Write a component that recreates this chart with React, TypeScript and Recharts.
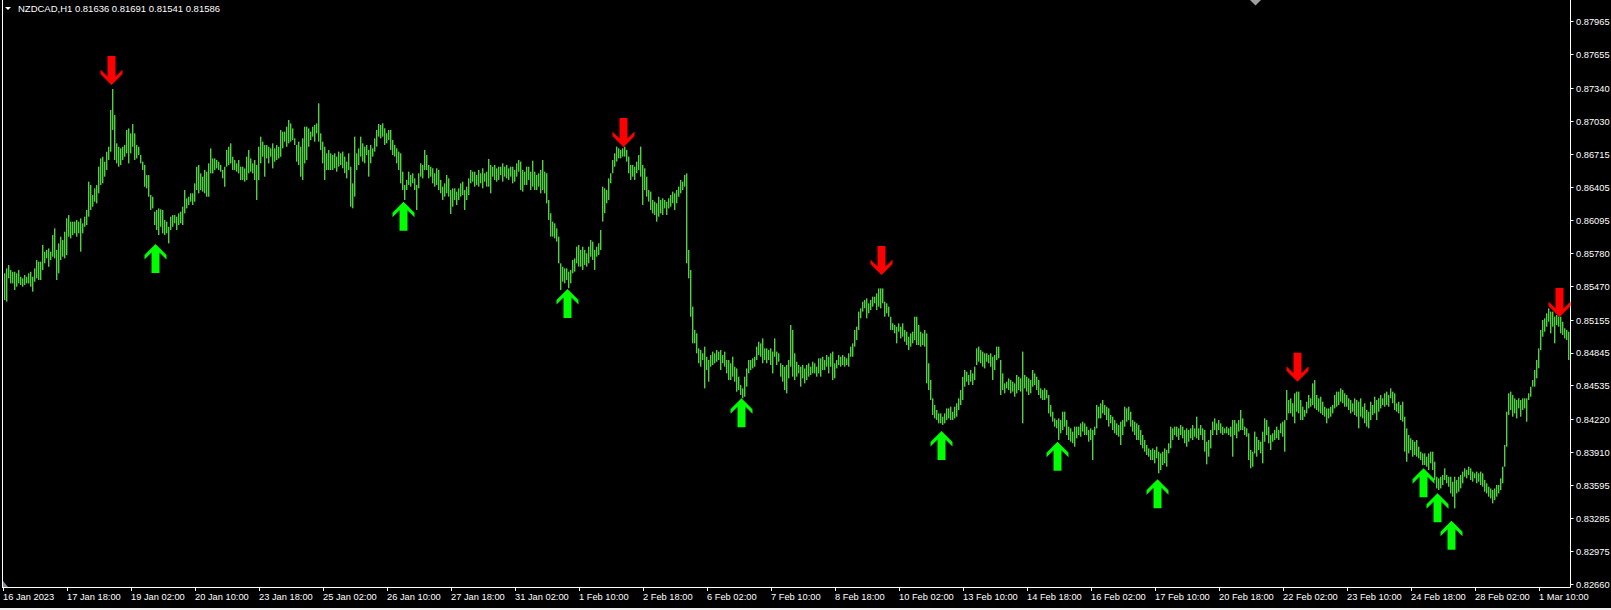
import React from 'react';
import { ComposedChart, Bar, Scatter, XAxis, YAxis } from 'recharts';

// Hourly bars, prices in points (1 point = 0.00001)
const highs: number[] = [
  85596, 85643, 85674, 85627, 85611, 85611, 85596, 85627, 85564, 85549,
  85580, 85564, 85596, 85611, 85564, 85643, 85721, 85706, 85706, 85863,
  85800, 85816, 85831, 85800, 85957, 86020, 85816, 85878, 85941, 85910,
  85988, 86114, 86145, 86083, 86083, 86083, 86098, 86083, 86114, 86067,
  86130, 86193, 86460, 86428, 86334, 86397, 86428, 86601, 86679, 86695,
  86648, 86742, 86789, 87135, 87333, 87088, 86821, 86789, 86774, 86789,
  86805, 86947, 86962, 86915, 87003, 86915, 86805, 86789, 86711, 86648,
  86617, 86522, 86522, 86334, 86318, 86177, 86193, 86208, 86199, 86193,
  86098, 86083, 86035, 86130, 86145, 86145, 86130, 86161, 86177, 86224,
  86381, 86302, 86318, 86350, 86350, 86444, 86601, 86617, 86538, 86507,
  86570, 86554, 86632, 86774, 86679, 86679, 86664, 86648, 86617, 86570,
  86601, 86758, 86789, 86821, 86695, 86664, 86632, 86664, 86601, 86601,
  86585, 86695, 86758, 86679, 86632, 86664, 86617, 86789, 86884, 86837,
  86805, 86805, 86789, 86774, 86821, 86774, 86805, 86789, 86947, 86931,
  86931, 86978, 87041, 87009, 86962, 86868, 86805, 86837, 86789, 86868,
  86978, 86978, 86962, 86931, 86978, 86994, 87009, 87198, 86915, 86837,
  86789, 86727, 86758, 86727, 86711, 86727, 86696, 86743, 86727, 86743,
  86696, 86649, 86727, 86601, 86444, 86884, 86727, 86774, 86884, 86821,
  86790, 86806, 86759, 86806, 86774, 86868, 86947, 87004, 86994, 87010,
  86963, 86916, 86947, 86947, 86853, 86806, 86774, 86743, 86727, 86554,
  86429, 86476, 86554, 86523, 86539, 86491, 86429, 86539, 86633, 86617,
  86759, 86711, 86617, 86601, 86586, 86539, 86586, 86570, 86476, 86413,
  86444, 86523, 86491, 86381, 86397, 86397, 86366, 86397, 86444, 86460,
  86381, 86413, 86491, 86570, 86554, 86554, 86523, 86570, 86539, 86586,
  86539, 86554, 86674, 86617, 86601, 86617, 86586, 86601, 86601, 86633,
  86601, 86617, 86586, 86601, 86601, 86570, 86633, 86664, 86649, 86570,
  86554, 86601, 86601, 86554, 86658, 86554, 86523, 86539, 86570, 86664,
  86554, 86539, 86287, 86162, 86083, 86067, 86020, 85942, 85690, 85659,
  85643, 85643, 85612, 85628, 85722, 85737, 85847, 85863, 85816, 85847,
  85816, 85785, 85847, 85910, 85895, 85816, 85847, 85879, 86004, 86413,
  86397, 86381, 86491, 86539, 86664, 86727, 86790, 86774, 86759, 86774,
  86790, 86759, 86696, 86617, 86617, 86601, 86649, 86711, 86790, 86617,
  86586, 86507, 86381, 86366, 86287, 86271, 86256, 86318, 86287, 86303,
  86287, 86271, 86303, 86334, 86366, 86350, 86381, 86413, 86476, 86460,
  86523, 86538, 85816, 85627, 85282, 85062, 85030, 84889, 84873, 84842,
  84905, 84810, 84779, 84826, 84858, 84842, 84873, 84858, 84873, 84826,
  84858, 84779, 84779, 84748, 84810, 84716, 84700, 84622, 84543, 84512,
  84622, 84700, 84779, 84779, 84795, 84810, 84905, 84952, 84936, 84983,
  84889, 84889, 84873, 84889, 84858, 84983, 84858, 84842, 84748, 84732,
  84716, 84732, 84779, 85109, 85062, 84842, 84763, 84732, 84716, 84732,
  84700, 84732, 84748, 84716, 84763, 84748, 84716, 84795, 84795, 84810,
  84779, 84826, 84810, 84842, 84858, 84748, 84779, 84826, 84810, 84826,
  84810, 84795, 84842, 84905, 84936, 85062, 85093, 85235, 85266, 85329,
  85345, 85360, 85313, 85345, 85376, 85376, 85407, 85454, 85454, 85454,
  85329, 85313, 85282, 85187, 85125, 85109, 85093, 85125, 85093, 85125,
  85062, 85046, 84999, 85030, 85046, 85187, 85187, 85109, 85046, 85030,
  85062, 85030, 84748, 84591, 84418, 84355, 84308, 84276, 84276, 84245,
  84276, 84323, 84323, 84339, 84292, 84339, 84371, 84418, 84496, 84620,
  84685, 84669, 84638, 84685, 84653, 84716, 84889, 84905, 84873, 84858,
  84842, 84842, 84826, 84842, 84810, 84826, 84905, 84905, 84779, 84653,
  84559, 84575, 84606, 84591, 84575, 84559, 84638, 84622, 84606, 84858,
  84638, 84622, 84606, 84591, 84685, 84653, 84622, 84591, 84512, 84496,
  84512, 84496, 84449, 84355, 84292, 84229, 84213, 84229, 84213, 84292,
  84292, 84213, 84151, 84135, 84104, 84151, 84151, 84151, 84182, 84198,
  84182, 84151, 84119, 84135, 84119, 84151, 84355, 84339, 84371, 84402,
  84355, 84339, 84324, 84261, 84245, 84213, 84182, 84166, 84198, 84213,
  84339, 84324, 84339, 84292, 84213, 84198, 84182, 84166, 84119, 84072,
  84025, 83978, 83946, 83931, 83946, 83931, 83962, 83915, 83899, 83915,
  83946, 83931, 83994, 84151, 84135, 84151, 84151, 84135, 84166, 84151,
  84119, 84135, 84119, 84135, 84166, 84135, 84245, 84135, 84166, 84135,
  84119, 84009, 84025, 84119, 84198, 84229, 84182, 84213, 84182, 84151,
  84135, 84151, 84135, 84151, 84213, 84213, 84182, 84213, 84308, 84229,
  84151, 84135, 84088, 83931, 83915, 84104, 84056, 84025, 84009, 84104,
  84229, 84213, 84151, 84072, 84088, 84119, 84151, 84119, 84182, 84198,
  84213, 84496, 84402, 84418, 84371, 84465, 84481, 84481, 84402, 84339,
  84308, 84386, 84449, 84418, 84559, 84590, 84449, 84418, 84433, 84386,
  84339, 84323, 84323, 84339, 84355, 84449, 84481, 84481, 84512, 84496,
  84465, 84449, 84418, 84402, 84371, 84418, 84402, 84386, 84418, 84339,
  84371, 84308, 84292, 84386, 84355, 84433, 84402, 84418, 84449, 84418,
  84465, 84481, 84449, 84512, 84481, 84465, 84371, 84386, 84355, 84386,
  84245, 84135, 84072, 84041, 84025, 84009, 84025, 83962, 83915, 83899,
  83899, 83868, 83899, 83915, 83915, 83821, 83679, 83664, 83679, 83695,
  83758, 83695, 83679, 83679, 83632, 83679, 83648, 83679, 83695, 83727,
  83758, 83742, 83774, 83758, 83727, 83711, 83727, 83711, 83727, 83711,
  83648, 83617, 83585, 83569, 83554, 83569, 83601, 83601, 83664, 83774,
  83978, 84292, 84465, 84481, 84449, 84418, 84402, 84418, 84402, 84418,
  84418, 84418, 84465, 84528, 84590, 84685, 84779, 84889, 85062, 85156,
  85172, 85219, 85266, 85235, 85235, 85188, 85203, 85188, 85188, 85140,
  85078, 85062, 85046,
];

const lows: number[] = [
  85344, 85329, 85549, 85501, 85501, 85439, 85470, 85501, 85486, 85470,
  85486, 85501, 85501, 85470, 85423, 85517, 85549, 85533, 85533, 85627,
  85690, 85737, 85658, 85721, 85753, 85737, 85533, 85596, 85721, 85753,
  85737, 85768, 85941, 85925, 85957, 85973, 85941, 85973, 85800, 85973,
  86035, 86051, 86130, 86193, 86224, 86271, 86255, 86350, 86428, 86444,
  86507, 86570, 86664, 86742, 86947, 86664, 86632, 86601, 86617, 86664,
  86695, 86727, 86632, 86727, 86789, 86664, 86679, 86711, 86632, 86570,
  86412, 86397, 86318, 86193, 86208, 86051, 86004, 85957, 86035, 85973,
  85957, 85973, 85878, 86004, 86035, 86067, 86004, 86051, 86067, 86051,
  86161, 86208, 86240, 86271, 86240, 86271, 86381, 86350, 86381, 86365,
  86350, 86318, 86318, 86538, 86538, 86570, 86585, 86570, 86554, 86491,
  86412, 86601, 86617, 86632, 86570, 86570, 86554, 86538, 86475, 86475,
  86460, 86475, 86538, 86554, 86538, 86475, 86287, 86475, 86632, 86695,
  86507, 86679, 86632, 86695, 86585, 86648, 86664, 86679, 86695, 86774,
  86837, 86789, 86821, 86837, 86852, 86805, 86648, 86617, 86507, 86475,
  86632, 86664, 86789, 86852, 86884, 86837, 86915, 86837, 86758, 86632,
  86475, 86570, 86570, 86570, 86570, 86586, 86554, 86601, 86617, 86586,
  86539, 86491, 86570, 86224, 86209, 86319, 86570, 86617, 86696, 86649,
  86633, 86711, 86507, 86633, 86696, 86743, 86790, 86884, 86868, 86884,
  86806, 86821, 86853, 86759, 86711, 86696, 86633, 86570, 86444, 86381,
  86287, 86381, 86429, 86413, 86444, 86381, 86193, 86397, 86507, 86491,
  86570, 86570, 86491, 86507, 86444, 86413, 86429, 86381, 86350, 86287,
  86319, 86350, 86319, 86155, 86224, 86287, 86240, 86287, 86319, 86334,
  86193, 86287, 86334, 86444, 86460, 86413, 86429, 86413, 86444, 86397,
  86460, 86413, 86413, 86350, 86507, 86476, 86460, 86476, 86523, 86460,
  86507, 86491, 86476, 86507, 86444, 86460, 86507, 86554, 86381, 86366,
  86429, 86429, 86476, 86381, 86413, 86381, 86381, 86413, 86350, 86381,
  86350, 86256, 86099, 85942, 85942, 85926, 85895, 85690, 85439, 85518,
  85502, 85533, 85455, 85502, 85596, 85612, 85690, 85659, 85659, 85628,
  85675, 85659, 85690, 85753, 85722, 85628, 85753, 85769, 85816, 86083,
  86162, 86256, 86287, 86444, 86539, 86601, 86649, 86680, 86680, 86696,
  86696, 86649, 86539, 86476, 86507, 86476, 86539, 86570, 86507, 86240,
  86381, 86319, 86272, 86193, 86161, 86146, 86083, 86130, 86161, 86146,
  86208, 86146, 86208, 86224, 86256, 86193, 86256, 86318, 86350, 86381,
  86413, 85690, 85549, 85187, 84936, 84936, 84842, 84748, 84716, 84779,
  84512, 84685, 84575, 84716, 84732, 84748, 84763, 84779, 84685, 84748,
  84716, 84653, 84590, 84590, 84622, 84575, 84480, 84496, 84449, 84418,
  84433, 84528, 84653, 84685, 84700, 84716, 84779, 84826, 84810, 84748,
  84779, 84748, 84779, 84732, 84653, 84810, 84732, 84763, 84622, 84575,
  84496, 84465, 84606, 84716, 84622, 84590, 84622, 84653, 84528, 84606,
  84559, 84590, 84622, 84638, 84653, 84653, 84622, 84653, 84622, 84685,
  84685, 84716, 84653, 84716, 84590, 84606, 84700, 84732, 84716, 84732,
  84716, 84732, 84716, 84810, 84810, 84905, 84967, 85062, 85172, 85235,
  85266, 85172, 85219, 85250, 85282, 85313, 85250, 85282, 85266, 85313,
  85187, 85219, 85187, 85062, 85062, 85030, 84936, 85046, 84983, 84999,
  84952, 84920, 84873, 84905, 84936, 84967, 84920, 84920, 84905, 84920,
  84905, 84559, 84496, 84402, 84261, 84229, 84214, 84182, 84182, 84167,
  84182, 84214, 84229, 84214, 84214, 84229, 84245, 84308, 84355, 84402,
  84528, 84575, 84543, 84575, 84543, 84591, 84732, 84763, 84748, 84716,
  84700, 84763, 84748, 84716, 84591, 84685, 84779, 84795, 84449, 84496,
  84465, 84512, 84496, 84465, 84481, 84433, 84465, 84496, 84481, 84182,
  84512, 84481, 84449, 84465, 84528, 84543, 84496, 84449, 84418, 84402,
  84402, 84418, 84276, 84245, 84198, 84151, 84135, 84025, 84088, 84119,
  84151, 84072, 84025, 84009, 83994, 83962, 84041, 84072, 84056, 84104,
  84072, 84072, 84009, 84025, 83836, 84072, 84135, 84229, 84229, 84276,
  84261, 84213, 84151, 84182, 84119, 84088, 84072, 84056, 83978, 84072,
  84151, 84198, 84213, 84151, 84104, 84072, 84025, 84025, 83978, 83946,
  83915, 83884, 83868, 83836, 83836, 83805, 83852, 83711, 83742, 83789,
  83805, 83774, 83899, 83946, 84025, 84072, 84056, 84025, 84072, 84041,
  83994, 83962, 84009, 84041, 84025, 84056, 84041, 84025, 84072, 84025,
  83915, 83796, 83868, 83946, 84072, 84119, 84072, 84119, 84088, 84072,
  84088, 84088, 84072, 84056, 83868, 84072, 84041, 84104, 84119, 84119,
  84072, 84056, 83836, 83758, 83774, 83899, 83868, 83931, 83899, 83805,
  84009, 84072, 83994, 83931, 84009, 84025, 84041, 84025, 84088, 84056,
  83915, 84213, 84276, 84276, 84245, 84182, 84292, 84276, 84213, 84213,
  84245, 84276, 84323, 84339, 84355, 84323, 84308, 84292, 84276, 84261,
  84245, 84182, 84229, 84245, 84276, 84323, 84339, 84355, 84386, 84371,
  84339, 84339, 84308, 84276, 84292, 84261, 84245, 84135, 84245, 84229,
  84182, 84151, 84135, 84213, 84261, 84276, 84213, 84292, 84323, 84355,
  84339, 84355, 84339, 84418, 84371, 84308, 84292, 84276, 84213, 84198,
  83915, 83820, 83899, 83931, 83868, 83884, 83868, 83852, 83836, 83789,
  83789, 83774, 83742, 83805, 83742, 83648, 83569, 83554, 83569, 83601,
  83648, 83617, 83585, 83522, 83491, 83381, 83522, 83538, 83569, 83617,
  83679, 83664, 83695, 83648, 83632, 83664, 83617, 83632, 83601, 83585,
  83538, 83522, 83491, 83475, 83428, 83460, 83491, 83522, 83554, 83617,
  83774, 83962, 84261, 84308, 84245, 84276, 84229, 84323, 84245, 84308,
  84323, 84198, 84402, 84433, 84528, 84528, 84606, 84701, 84873, 84999,
  85046, 85093, 85140, 85030, 85093, 84936, 85109, 85093, 85030, 85015,
  84983, 84968, 84779,
];

// Indicator signals: bar index and price of the arrow's point
const upArrowBars = [76, 200, 282, 369, 469, 527, 577, 710, 717, 724];
const upArrowPrices = [85872, 86271, 85448, 84418, 84110, 84009, 83655, 83758, 83523, 83264];
const downArrowBars = [54, 310, 439, 647, 778];
const downArrowPrices = [87371, 86787, 85580, 84575, 85184];

const priceTicks = [
  87965, 87655, 87340, 87030, 86715, 86405, 86095, 85780, 85470,
  85155, 84845, 84535, 84220, 83910, 83595, 83285, 82975, 82660,
];
const dateTickBars = [
  0, 32, 64, 96, 128, 160, 192, 224, 256, 288, 320, 352, 384,
  416, 448, 480, 512, 544, 576, 608, 640, 672, 704, 736, 768,
];
const dateLabels = [
  '16 Jan 2023', '17 Jan 18:00', '19 Jan 02:00', '20 Jan 10:00', '23 Jan 18:00',
  '25 Jan 02:00', '26 Jan 10:00', '27 Jan 18:00', '31 Jan 02:00', '1 Feb 10:00',
  '2 Feb 18:00', '6 Feb 02:00', '7 Feb 10:00', '8 Feb 18:00', '10 Feb 02:00',
  '13 Feb 10:00', '14 Feb 18:00', '16 Feb 02:00', '17 Feb 10:00', '20 Feb 18:00',
  '22 Feb 02:00', '23 Feb 10:00', '24 Feb 18:00', '28 Feb 02:00', '1 Mar 10:00',
];
const symbolTitle = 'NZDCAD,H1  0.81636 0.81691 0.81541 0.81586';
const priceDomain = [82635, 88172];
const POINT = 100000;

const BAR_COLOR = '#50d042';
const UP_COLOR = '#00ff00';
const DOWN_COLOR = '#ff0000';
const FONT = "'Liberation Sans', Arial, sans-serif";
const FONT_SIZE = 9.3;

const data = highs.map((h, i) => {
  const u = upArrowBars.indexOf(i);
  const d = downArrowBars.indexOf(i);
  return {
    i,
    hl: [Math.min(lows[i], h), Math.max(lows[i], h)],
    up: u >= 0 ? upArrowPrices[u] : null,
    down: d >= 0 ? downArrowPrices[d] : null,
  };
});

const ARROW_PTS = [
  [0, 0], [11, 11], [11, 15.5], [4, 8.5], [4, 29], [-4, 29], [-4, 8.5], [-11, 15.5], [-11, 11],
];

const makeArrow = (color: string, dir: number) => (props: any) => {
  const { cx, cy } = props;
  if (cx == null || cy == null || !isFinite(cx) || !isFinite(cy)) return <g />;
  const x0 = cx - 0.5;
  const pts = ARROW_PTS.map(([dx, dy]) => `${x0 + dx},${cy + dir * dy}`).join(' ');
  return <polygon points={pts} fill={color} />;
};
const UpArrow = makeArrow(UP_COLOR, 1);
const DownArrow = makeArrow(DOWN_COLOR, -1);

const BarLine = (props: any) => {
  const { x, y, height } = props;
  if (x == null || y == null || !isFinite(x) || !isFinite(y)) return <g />;
  return (
    <rect
      x={Math.floor(x)}
      y={y}
      width={1.4}
      height={Math.max(1, height || 0)}
      fill={BAR_COLOR}
    />
  );
};

const DateTick = (props: any) => {
  const { x, y, payload } = props;
  const idx = dateTickBars.indexOf(Number(payload.value));
  if (idx < 0) return <g />;
  const tx = Math.floor(x) - 0.5;
  return (
    <g>
      <line x1={tx} x2={tx} y1={y} y2={y + 3.5} stroke="#ffffff" strokeWidth={1} />
      <text x={tx - 0.5} y={y + 12.8} fill="#ffffff" fontSize={FONT_SIZE} fontFamily={FONT} textAnchor="start">
        {dateLabels[idx]}
      </text>
    </g>
  );
};

const PriceTick = (props: any) => {
  const { x, y, payload } = props;
  const ty = Math.floor(y) + 0.5;
  return (
    <g>
      <line x1={x} x2={x + 3} y1={ty} y2={ty} stroke="#ffffff" strokeWidth={1} />
      <text x={x + 5.5} y={y + 3.4} fill="#ffffff" fontSize={FONT_SIZE} fontFamily={FONT} textAnchor="start">
        {(Number(payload.value) / POINT).toFixed(5)}
      </text>
    </g>
  );
};

export default function App() {
  return (
    <div style={{ position: 'relative', width: 1611, height: 610, background: '#000', overflow: 'hidden' }}>
      <style>{'html,body{margin:0;padding:0;background:#000;}'}</style>
      <ComposedChart
        width={1611}
        height={610}
        data={data}
        margin={{ top: 0, right: 0, bottom: 0, left: 3 }}
        style={{ background: '#000' }}
      >
        <XAxis
          dataKey="i"
          type="category"
          ticks={dateTickBars}
          interval={0}
          height={22.5}
          padding={{ left: 0, right: 1.5 }}
          axisLine={{ stroke: '#ffffff', strokeWidth: 1 }}
          tickLine={false}
          tickSize={0}
          tickMargin={0}
          tick={<DateTick />}
        />
        <YAxis
          orientation="right"
          type="number"
          domain={priceDomain}
          allowDataOverflow
          ticks={priceTicks}
          interval={0}
          width={40.5}
          axisLine={{ stroke: '#ffffff', strokeWidth: 1 }}
          tickLine={false}
          tickSize={0}
          tickMargin={0}
          tick={<PriceTick />}
        />
        <Bar dataKey="hl" barSize={1} isAnimationActive={false} shape={BarLine} />
        <Scatter dataKey="up" isAnimationActive={false} shape={UpArrow} />
        <Scatter dataKey="down" isAnimationActive={false} shape={DownArrow} />
      </ComposedChart>
      <svg
        width={1611}
        height={610}
        style={{ position: 'absolute', left: 0, top: 0, pointerEvents: 'none' }}
      >
        <line x1={2.5} x2={2.5} y1={0} y2={588} stroke="#ffffff" strokeWidth={1} />
        <polygon points="5,7 11,7 8,10" fill="#ffffff" />
        <text x={18} y={12} fill="#ffffff" fontSize={FONT_SIZE} fontFamily={FONT} textLength={202} lengthAdjust="spacingAndGlyphs">
          {symbolTitle}
        </text>
        <polygon points="1250,0 1261,0 1255.5,5.5" fill="#a0a0a0" />
        <polygon points="3,581 3,587 8,587" fill="#7f8c99" />
        <rect x={0} y={608} width={1611} height={2} fill="#f0f0f0" />
      </svg>
    </div>
  );
}
